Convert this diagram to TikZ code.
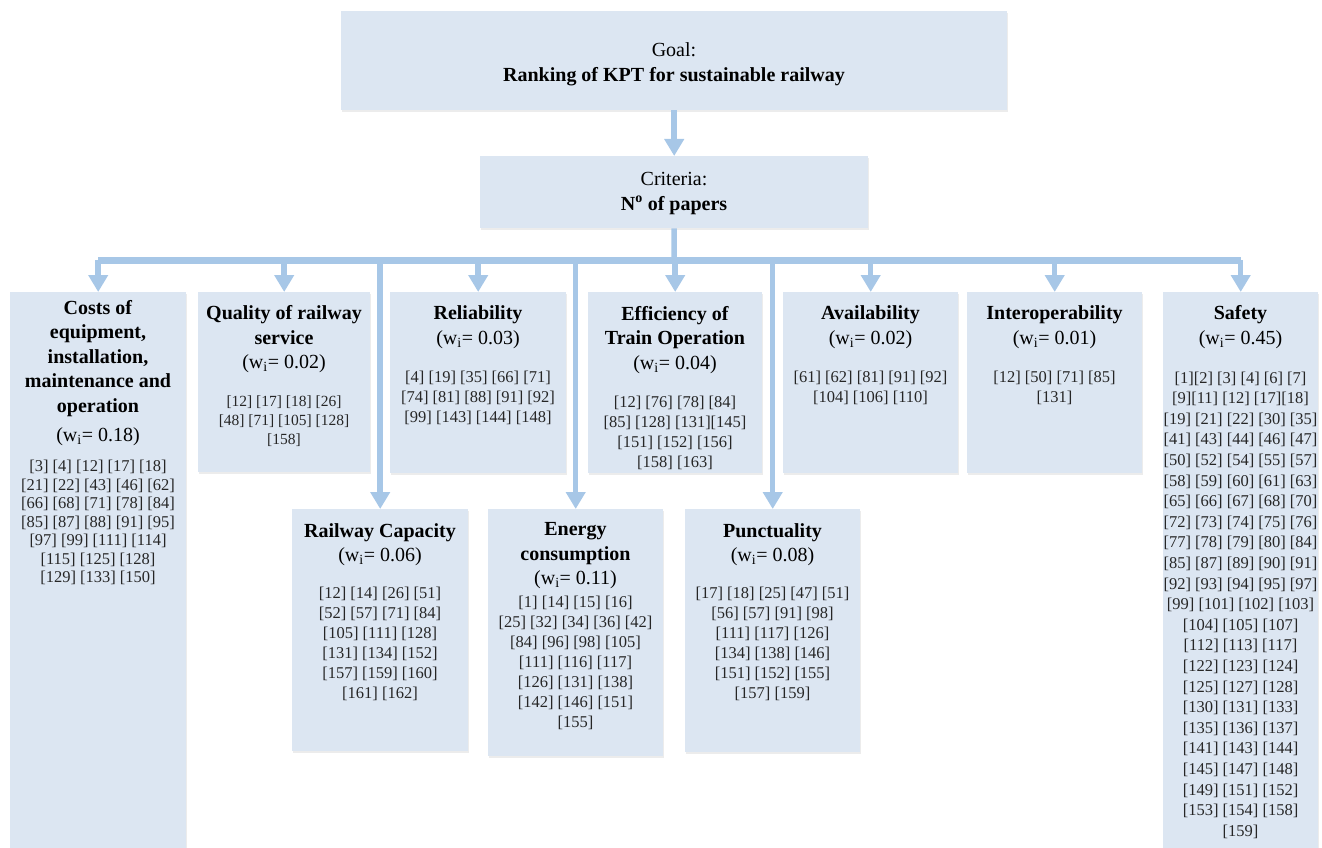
\documentclass[tikz,border=0pt]{standalone}
\usepackage{fontspec}
\setmainfont{Liberation Serif}
\usetikzlibrary{arrows.meta,shadows}
\definecolor{boxfill}{RGB}{220,230,242}
\definecolor{linec}{RGB}{167,199,231}
\begin{document}
\begin{tikzpicture}[x=1pt,y=-1pt,
  box/.style={fill=boxfill, draw=none, inner sep=0pt, anchor=north west,
    drop shadow={shadow xshift=1.2pt, shadow yshift=-1.8pt, opacity=0.15}},
  head/.style={anchor=north, inner sep=0pt, align=center, font=\fontsize{20}{24.5}\selectfont},
  refs/.style={anchor=north, inner sep=0pt, align=center, text=black!85, font=\fontsize{16.5}{20}\selectfont},
  conn/.style={draw=linec, line width=5.5pt},
  arr/.style={conn, -{Triangle[width=19pt,length=17pt]}},
]
\useasboundingbox (0,0) rectangle (1322,848);

% boxes
\node[box, minimum width=666pt, minimum height=99pt] (goal) at (341,11) {};
\node[box, minimum width=388pt, minimum height=72pt] (crit) at (480,156) {};
\node[box, minimum width=176pt, minimum height=556pt] (cost) at (10,292) {};
\node[box, minimum width=172pt, minimum height=180pt] (qual) at (198,292) {};
\node[box, minimum width=176pt, minimum height=181pt] (reli) at (390,292) {};
\node[box, minimum width=174pt, minimum height=181pt] (effi) at (588,292) {};
\node[box, minimum width=175pt, minimum height=181pt] (avai) at (783,292) {};
\node[box, minimum width=175pt, minimum height=181pt] (inte) at (967,292) {};
\node[box, minimum width=155pt, minimum height=556pt] (safe) at (1163,292) {};
\node[box, minimum width=176pt, minimum height=242pt] (capa) at (292,509) {};
\node[box, minimum width=175pt, minimum height=247pt] (ener) at (488,509) {};
\node[box, minimum width=175pt, minimum height=243pt] (punc) at (685,509) {};

% connectors
\coordinate (bar) at (674,260);
\draw[arr] (goal.south) -- (crit.north);
\draw[conn] (crit.south) -- (bar);
\draw[arr] (bar -| capa.north) -- (capa.north);
\draw[arr] (bar -| ener.north) -- (ener.north);
\draw[arr] (bar -| punc.north) -- (punc.north);
\draw[conn, line width=7pt] (bar -| cost.north) -- (bar -| safe.north);
\foreach \n in {cost,qual,reli,effi,avai,inte,safe}
  \draw[arr] (bar -| \n.north) -- (\n.north);

% texts
\node[head] (goalT) at (674,42.5) {Goal:\\\textbf{Ranking of KPT for sustainable railway}};
\node[head] (critT) at (674,172.5) {Criteria:\\\textbf{N\textsuperscript{o} of papers}};

\node[head] (costT) at (98,300) {\textbf{Costs of}\\\textbf{equipment,}\\\textbf{installation,}\\\textbf{maintenance and}\\\textbf{operation}\\[5pt](w\textsubscript{i}= 0.18)};
\node[refs, font=\fontsize{16.5}{18.5}\selectfont] (costR) at (98,460) {[3] [4] [12] [17] [18]\\{}[21] [22] [43] [46] [62]\\{}[66] [68] [71] [78] [84]\\{}[85] [87] [88] [91] [95]\\{}[97] [99] [111] [114]\\{}[115] [125] [128]\\{}[129] [133] [150]};

\node[head] (qualT) at (284,305.5) {\textbf{Quality of railway}\\\textbf{service}\\(w\textsubscript{i}= 0.02)};
\node[refs, font=\fontsize{15.5}{19}\selectfont] (qualR) at (284,395.5) {[12] [17] [18] [26]\\{}[48] [71] [105] [128]\\{}[158]};

\node[head] (reliT) at (478,305.5) {\textbf{Reliability}\\(w\textsubscript{i}= 0.03)};
\node[refs] (reliR) at (478,370.5) {[4] [19] [35] [66] [71]\\{}[74] [81] [88] [91] [92]\\{}[99] [143] [144] [148]};

\node[head] (effiT) at (675,306) {\textbf{Efficiency of}\\\textbf{Train Operation}\\(w\textsubscript{i}= 0.04)};
\node[refs] (effiR) at (675,395.5) {[12] [76] [78] [84]\\{}[85] [128] [131][145]\\{}[151] [152] [156]\\{}[158] [163]};

\node[head] (avaiT) at (870.5,305.5) {\textbf{Availability}\\(w\textsubscript{i}= 0.02)};
\node[refs] (avaiR) at (870.5,370.5) {[61] [62] [81] [91] [92]\\{}[104] [106] [110]};

\node[head] (inteT) at (1054.5,305.5) {\textbf{Interoperability}\\(w\textsubscript{i}= 0.01)};
\node[refs] (inteR) at (1054.5,370.5) {[12] [50] [71] [85]\\{}[131]};

\node[head] (safeT) at (1240.5,305.5) {\textbf{Safety}\\(w\textsubscript{i}= 0.45)};
\node[refs, font=\fontsize{16.5}{20.6}\selectfont] (safeR) at (1240.5,371.5) {[1][2] [3] [4] [6] [7]\\{}[9][11] [12] [17][18]\\{}[19] [21] [22] [30] [35]\\{}[41] [43] [44] [46] [47]\\{}[50] [52] [54] [55] [57]\\{}[58] [59] [60] [61] [63]\\{}[65] [66] [67] [68] [70]\\{}[72] [73] [74] [75] [76]\\{}[77] [78] [79] [80] [84]\\{}[85] [87] [89] [90] [91]\\{}[92] [93] [94] [95] [97]\\{}[99] [101] [102] [103]\\{}[104] [105] [107]\\{}[112] [113] [117]\\{}[122] [123] [124]\\{}[125] [127] [128]\\{}[130] [131] [133]\\{}[135] [136] [137]\\{}[141] [143] [144]\\{}[145] [147] [148]\\{}[149] [151] [152]\\{}[153] [154] [158]\\{}[159]};

\node[head] (capaT) at (380,523) {\textbf{Railway Capacity}\\(w\textsubscript{i}= 0.06)};
\node[refs] (capaR) at (380,586.5) {[12] [14] [26] [51]\\{}[52] [57] [71] [84]\\{}[105] [111] [128]\\{}[131] [134] [152]\\{}[157] [159] [160]\\{}[161] [162]};

\node[head] (enerT) at (575.5,522.5) {\textbf{Energy}\\\textbf{consumption}\\(w\textsubscript{i}= 0.11)};
\node[refs] (enerR) at (575.5,596) {[1] [14] [15] [16]\\{}[25] [32] [34] [36] [42]\\{}[84] [96] [98] [105]\\{}[111] [116] [117]\\{}[126] [131] [138]\\{}[142] [146] [151]\\{}[155]};

\node[head] (puncT) at (772.5,523) {\textbf{Punctuality}\\(w\textsubscript{i}= 0.08)};
\node[refs] (puncR) at (772.5,586.5) {[17] [18] [25] [47] [51]\\{}[56] [57] [91] [98]\\{}[111] [117] [126]\\{}[134] [138] [146]\\{}[151] [152] [155]\\{}[157] [159]};
\end{tikzpicture}
\end{document}
